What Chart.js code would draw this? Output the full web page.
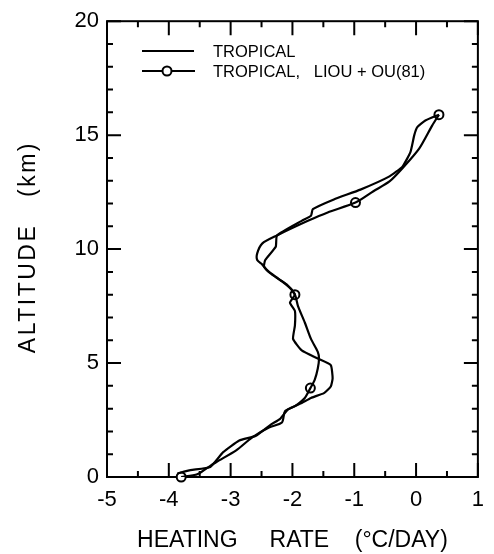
<!DOCTYPE html>
<html>
<head>
<meta charset="utf-8">
<script src="https://cdn.jsdelivr.net/npm/chart.js@4.4.1/dist/chart.umd.min.js"></script>
<style>
  html, body { margin: 0; padding: 0; background: #fff; }
</style>
</head>
<body>
<canvas id="chart" width="494" height="554"></canvas>
<script>
// heating rate profiles (x = heating rate, y = altitude)
const tropicalRate = [0.37, 0.15, 0.02, -0.03, -0.09, -0.22, -0.43, -0.90, -1.33, -1.67, -1.70, -1.85,
  -2.25, -2.27, -2.44, -2.46, -2.36, -2.17, -2.01, -1.96, -2.04, -1.96, -1.96, -1.99, -1.85, -1.59,
  -1.38, -1.35, -1.38, -1.49, -1.70, -1.85, -2.07, -2.20, -2.35, -2.59, -2.86, -3.12, -3.33, -3.65, -3.86];
const tropicalAlt = [15.9, 15.64, 15.35, 14.99, 14.27, 13.62, 13.19, 12.61, 12.18, 11.75, 11.46, 11.24,
  10.6, 10.1, 9.52, 9.23, 8.94, 8.58, 8.22, 8.0, 7.65, 7.29, 6.64, 6.06, 5.56, 5.2,
  4.91, 4.33, 3.97, 3.68, 3.47, 3.25, 2.97, 2.55, 2.3, 1.81, 1.6, 1.09, 0.44, 0.3, 0.16];

const liouRate = [0.37, 0.26, 0.05, -0.22, -0.43, -0.69, -0.98, -1.43, -1.75, -2.25, -2.49, -2.57,
  -2.57, -2.49, -2.41, -2.28, -2.09, -1.96, -1.91, -1.80, -1.70, -1.59, -1.57, -1.59, -1.64, -1.71,
  -1.80, -1.96, -2.12, -2.17, -2.38, -2.65, -2.91, -3.23, -3.39, -3.54, -3.80];
const liouAlt = [15.9, 15.42, 14.41, 13.55, 12.97, 12.54, 12.04, 11.61, 11.24, 10.6, 10.24, 9.81,
  9.52, 9.33, 9.08, 8.8, 8.44, 8.0, 7.5, 6.78, 6.06, 5.49, 5.2, 4.76, 4.26, 3.9,
  3.47, 3.11, 2.89, 2.39, 2.17, 1.74, 1.17, 0.66, 0.38, 0.12, 0.0];

// open circles on the Liou + Ou curve
const markRate = [0.37, -0.98, -1.96, -1.71, -3.80];
const markAlt  = [15.9, 12.04, 8.0, 3.9, 0.0];

const xTicks = [-5, -4, -3, -2, -1, 0, 1];
const yTicks = [0, 5, 10, 15, 20];

const toPoints = (xs, ys) => xs.map((v, i) => ({ x: v, y: ys[i] }));

// frame with inward ticks on all four sides
const framePlugin = {
  id: 'frame',
  beforeDatasetsDraw(chart) {
    const { ctx, chartArea: a, scales: { x, y } } = chart;
    ctx.save();
    ctx.strokeStyle = '#000';
    ctx.lineWidth = 2;
    ctx.strokeRect(a.left, a.top, a.right - a.left, a.bottom - a.top);
    ctx.beginPath();
    for (let v = -5; v <= 1.001; v += 0.5) {
      const px = x.getPixelForValue(v);
      const len = Math.abs(v - Math.round(v)) < 0.01 ? 14 : 6;
      ctx.moveTo(px, a.bottom); ctx.lineTo(px, a.bottom - len);
      ctx.moveTo(px, a.top);    ctx.lineTo(px, a.top + len);
    }
    for (let v = 0; v <= 20; v++) {
      const py = y.getPixelForValue(v);
      const len = v % 5 === 0 ? 14 : 6;
      ctx.moveTo(a.left, py);  ctx.lineTo(a.left + len, py);
      ctx.moveTo(a.right, py); ctx.lineTo(a.right - len, py);
    }
    ctx.stroke();
    ctx.restore();
  },
  afterDraw(chart) {
    const { ctx, chartArea: a } = chart;
    ctx.save();
    ctx.fillStyle = '#000';
    // y axis title (wide lettering)
    ctx.translate(28.5, (a.top + a.bottom) / 2 - 2);
    ctx.rotate(-Math.PI / 2);
    ctx.letterSpacing = '2.5px';
    ctx.font = '23px "Liberation Sans", Arial, sans-serif';
    ctx.textAlign = 'center';
    ctx.textBaseline = 'middle';
    ctx.fillText('ALTITUDE   (km)', 0, 0);
    ctx.restore();

    // legend
    ctx.save();
    ctx.strokeStyle = '#000';
    ctx.lineWidth = 2;
    ctx.beginPath();
    ctx.moveTo(142, 51); ctx.lineTo(194, 51);
    ctx.moveTo(142, 71); ctx.lineTo(195, 71);
    ctx.stroke();
    ctx.beginPath();
    ctx.arc(167, 71, 4.5, 0, Math.PI * 2);
    ctx.fillStyle = '#fff';
    ctx.fill();
    ctx.stroke();
    ctx.fillStyle = '#000';
    ctx.font = '16.5px "Liberation Sans", Arial, sans-serif';
    ctx.textBaseline = 'middle';
    ctx.fillText('TROPICAL', 213, 52);
    ctx.fillText('TROPICAL,   LIOU + OU(81)', 213, 72);
    ctx.restore();
  }
};

const tickFont = { family: '"Liberation Sans", Arial, sans-serif', size: 22 };

new Chart(document.getElementById('chart'), {
  type: 'scatter',
  data: {
    datasets: [
      {
        label: 'TROPICAL',
        data: toPoints(tropicalRate, tropicalAlt),
        showLine: true,
        borderColor: '#000',
        borderWidth: 2.2,
        pointRadius: 0,
        tension: 0.15
      },
      {
        label: 'TROPICAL, LIOU + OU(81)',
        data: toPoints(liouRate, liouAlt),
        showLine: true,
        borderColor: '#000',
        borderWidth: 2.2,
        pointRadius: 0,
        tension: 0.25
      },
      {
        label: 'markers',
        data: toPoints(markRate, markAlt),
        showLine: false,
        pointRadius: 4.5,
        pointBackgroundColor: '#fff',
        pointBorderColor: '#000',
        pointBorderWidth: 2,
        clip: false
      }
    ]
  },
  options: {
    responsive: false,
    animation: false,
    devicePixelRatio: 1,
    layout: { padding: { left: 0, right: 7, top: 14, bottom: 0 } },
    plugins: { legend: { display: false }, tooltip: { enabled: false } },
    scales: {
      x: {
        type: 'linear',
        min: -5, max: 1,
        afterBuildTicks: s => { s.ticks = xTicks.map(v => ({ value: v })); },
        afterFit: s => { s.height = 77; },
        grid: { display: false, drawTicks: false },
        border: { display: false },
        ticks: { color: '#000', font: tickFont, padding: 10, maxRotation: 0 },
        title: {
          display: true,
          text: 'HEATING     RATE    (°C/DAY)',
          color: '#000',
          font: { family: '"Liberation Sans", Arial, sans-serif', size: 23 },
          padding: { top: 0, bottom: 0 }
        }
      },
      y: {
        type: 'linear',
        min: 0, max: 20,
        afterBuildTicks: s => { s.ticks = yTicks.map(v => ({ value: v })); },
        afterFit: s => { s.width = 107; },
        grid: { display: false, drawTicks: false },
        border: { display: false },
        ticks: { color: '#000', font: tickFont, padding: 8 }
      }
    }
  },
  plugins: [framePlugin]
});
</script>
</body>
</html>
